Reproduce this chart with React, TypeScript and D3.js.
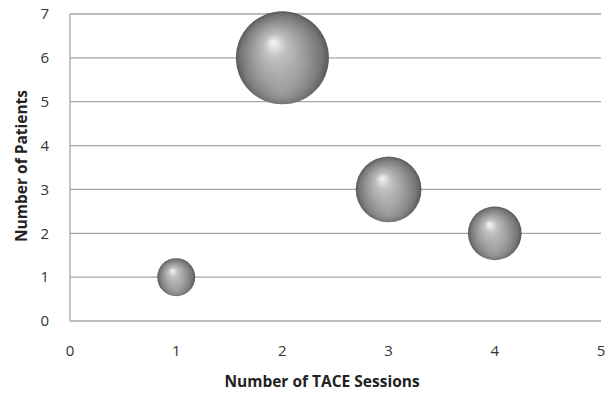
import React from "react";
import * as d3 from "d3";

const sessions = [1, 2, 3, 4];
const patients = [1, 6, 3, 2];
const bubbleSizes = [1, 6, 3, 2];
const xTicks = [0, 1, 2, 3, 4, 5];
const yTicks = [0, 1, 2, 3, 4, 5, 6, 7];

const W = 610;
const H = 394;
const margin = { left: 70, right: 9, top: 14, bottom: 73 };

export default function App() {
  const x = d3.scaleLinear().domain([0, 5]).range([margin.left, W - margin.right]);
  const y = d3.scaleLinear().domain([0, 7]).range([H - margin.bottom, margin.top]);
  const r = d3.scaleSqrt().domain([0, 6]).range([0, 46.5]);
  const font = "'Open Sans', sans-serif";
  const grid = "#a6a6a6";
  return (
    <svg width={W} height={H} style={{ position: "absolute", left: 0, top: 0, background: "#fff" }}>
      <defs>
        <radialGradient id="ball" cx="0.5" cy="0.5" r="0.5" fx="0.4" fy="0.33">
          <stop offset="0" stopColor="#f8f8f8" />
          <stop offset="0.25" stopColor="#bdbdbd" />
          <stop offset="0.6" stopColor="#959595" />
          <stop offset="0.88" stopColor="#747474" />
          <stop offset="1" stopColor="#585858" />
        </radialGradient>
        <radialGradient id="refl" cx="0.5" cy="0.85" r="0.5">
          <stop offset="0" stopColor="#ffffff" stopOpacity="0.25" />
          <stop offset="1" stopColor="#ffffff" stopOpacity="0" />
        </radialGradient>
      </defs>
      {yTicks.map((t) => (
        <line key={"g" + t} x1={x(0)} x2={x(5)} y1={y(t)} y2={y(t)} stroke={grid} strokeWidth={1.3} />
      ))}
      <line x1={x(0)} x2={x(0)} y1={y(0)} y2={y(7)} stroke={grid} strokeWidth={1.3} />
      {yTicks.map((t) => (
        <text key={"yt" + t} x={x(0) - 21} y={y(t)} dy="0.35em" textAnchor="end" fontFamily={font} fontSize={15} fill="#333">
          {t}
        </text>
      ))}
      {xTicks.map((t) => (
        <text key={"xt" + t} x={x(t)} y={356} textAnchor="middle" fontFamily={font} fontSize={15} fill="#333">
          {t}
        </text>
      ))}
      <text x={322} y={387} textAnchor="middle" fontFamily={font} fontSize={15.5} fontWeight="bold" fill="#222">
        Number of TACE Sessions
      </text>
      <text transform={`translate(27,166) rotate(-90)`} textAnchor="middle" fontFamily={font} fontSize={15.5} fontWeight="bold" fill="#222">
        Number of Patients
      </text>
      {sessions.map((s, i) => (
        <g key={"b" + i}>
          <circle cx={x(s)} cy={y(patients[i])} r={r(bubbleSizes[i])} fill="url(#ball)" />
          <circle cx={x(s)} cy={y(patients[i])} r={r(bubbleSizes[i])} fill="url(#refl)" />
        </g>
      ))}
    </svg>
  );
}
